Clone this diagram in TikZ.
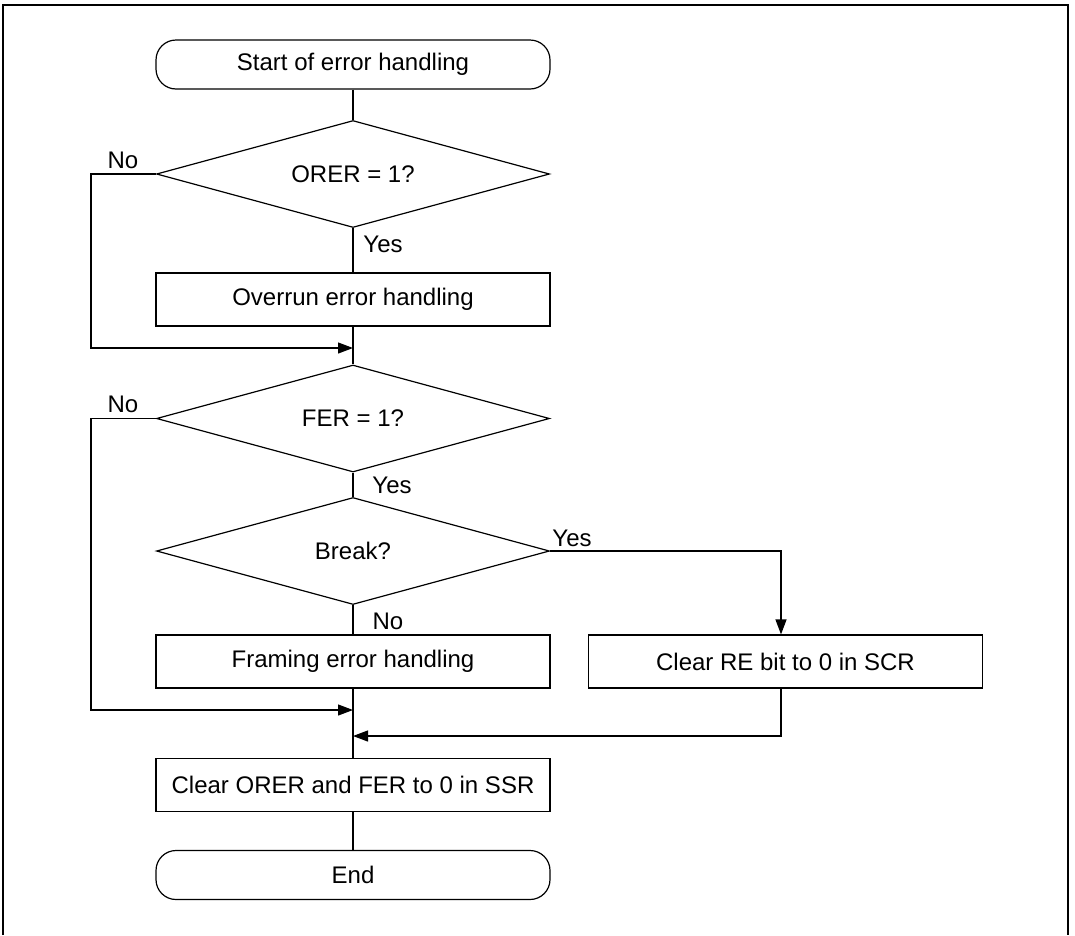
\documentclass[tikz,border=0pt]{standalone}
\usepackage{fontspec}
\setmainfont{Liberation Sans}
\usetikzlibrary{shapes.geometric,arrows.meta}
\begin{document}
\begin{tikzpicture}[x=1pt,y=-1pt, line width=1.2pt,
 every node/.style={font=\fontsize{24}{28}\selectfont},
 proc/.style={draw, rectangle, minimum width=394pt, minimum height=53pt, inner sep=0pt},
 term/.style={draw, rectangle, rounded corners=20pt, minimum width=394pt, minimum height=49pt, inner sep=0pt},
 dec/.style={draw, diamond, minimum width=393pt, minimum height=107pt, inner sep=0pt, aspect=3.6},
 lbl/.style={anchor=base, inner sep=0pt},
 arr/.style={-{Triangle[length=15pt,width=11pt]}}
]
\useasboundingbox (0,0) rectangle (1075,935);
\draw[line width=1.8pt] (3,935) -- (3,5) -- (1068,5) -- (1068,935);

\node[term] (start) at (353,64.5) {Start of error handling};
\node[dec] (d1) at (353,174) {ORER = 1?};
\node[proc] (ovr) at (353,299.5) {Overrun error handling};
\node[dec] (d2) at (353,418.5) {FER = 1?};
\node[dec] (d3) at (353,551) {Break?};
\node[proc] (frm) at (353,661.5) {Framing error handling};
\node[proc] (re) at (785.5,661.5) {Clear RE bit to 0 in SCR};
\node[proc] (ssr) at (353,785) {Clear ORER and FER to 0 in SSR};
\node[term] (end) at (353,875) {End};

\coordinate (m1) at (353,348);
\coordinate (m2) at (353,710);
\coordinate (m3) at (353,736);

\draw (start.south) -- (d1.north);
\draw[arr] (d1.west) -- ++(-65,0) |- (m1);
\draw (d1.south) -- (ovr.north);
\draw (ovr.south) -- (d2.north);
\draw[arr] (d2.west) -- ++(-65,0) |- (m2);
\draw (d2.south) -- (d3.north);
\draw[arr] (d3.east) -| ([xshift=-4.5pt]re.north);
\draw (d3.south) -- (frm.north);
\draw (frm.south) -- (ssr.north);
\draw[arr] ([xshift=-4.5pt]re.south) |- (m3);
\draw (ssr.south) -- (end.north);

\node[lbl] (no1) at (123,168) {No};
\node[lbl] (yes1) at (383,252) {Yes};
\node[lbl] (no2) at (123,412) {No};
\node[lbl] (yes2) at (392,493) {Yes};
\node[lbl] (yes3) at (572,546) {Yes};
\node[lbl] (no3) at (388,629) {No};
\end{tikzpicture}
\end{document}
